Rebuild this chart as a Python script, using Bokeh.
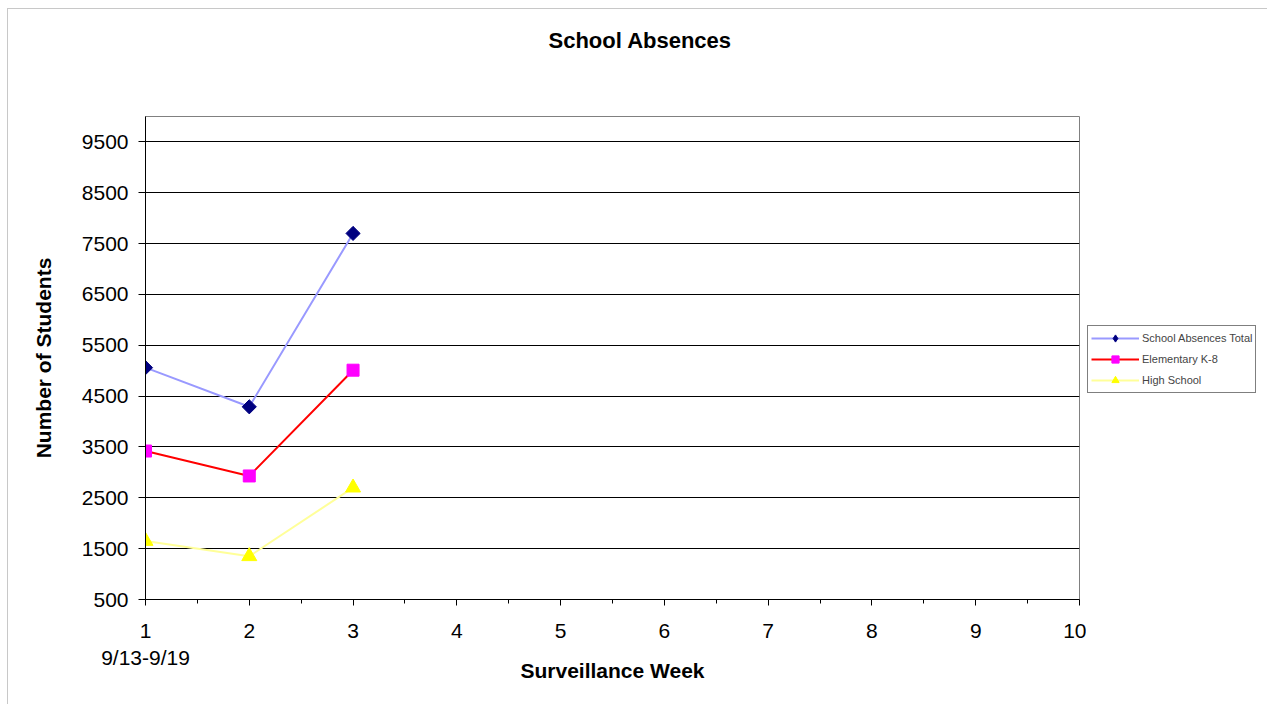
import numpy as np
from bokeh.plotting import figure
from bokeh.layouts import row
from bokeh.models import Range1d, FixedTicker, Legend, LegendItem, Title
from bokeh.embed import file_html
from bokeh.resources import INLINE

# ---- data ----
weeks = [1, 2, 3]
total = [5060, 4290, 7700]
elementary = [3420, 2930, 5010]
high_school = [1650, 1350, 2700]
x_ticks = [1, 2, 3, 4, 5, 6, 7, 8, 9, 10]
x_minor = [1.5, 2.5, 3.5, 4.5, 5.5, 6.5, 7.5, 8.5, 9.5]
y_ticks = [500, 1500, 2500, 3500, 4500, 5500, 6500, 7500, 8500, 9500]
x_lo, x_hi = 1, 10
y_lo, y_hi = 500, 10000
first_week_label = "9/13-9/19"
series_names = ["School Absences Total", "Elementary K-8", "High School"]

FONT = "Liberation Sans"
styles = [
    dict(line="#9999FF", marker="square", angle=np.pi / 4, size=10,
         lmarker="diamond", lsize=10, fill="#000080"),
    dict(line="#FF0000", marker="square", angle=0.0, size=12,
         lmarker="square", lsize=8, fill="#FF00FF"),
    dict(line="#FFFF99", marker="triangle", angle=0.0, size=15,
         lmarker="triangle", lsize=10, fill="#FFFF00"),
]

p = figure(width=1078, height=695, frame_width=934, frame_height=483,
           x_range=Range1d(x_lo, x_hi), y_range=Range1d(y_lo, y_hi),
           output_backend="svg", toolbar_location=None,
           min_border_left=137, min_border_right=7,
           min_border_top=107, min_border_bottom=105)

# spacer between title and plot area
p.add_layout(Title(text=" ", text_font_size="12px", standoff=48), "above")

# title
p.title.text = "School Absences"
p.title.align = "left"
p.title.offset = 403
p.title.standoff = 0
p.title.text_font = FONT
p.title.text_font_size = "22px"
p.title.text_font_style = "bold"
p.title.text_color = "black"

p.background_fill_color = "white"
p.border_fill_color = "white"
p.outline_line_color = "#808080"
p.outline_line_width = 1

# axes
xa = p.xaxis[0]
xa.ticker = FixedTicker(ticks=x_ticks, minor_ticks=x_minor)
xa.major_label_overrides = {x_ticks[0]: f"{x_ticks[0]}\n{first_week_label}"}
xa.axis_label = "Surveillance Week"
xa.axis_label_text_font = FONT
xa.axis_label_text_font_size = "21px"
xa.axis_label_text_font_style = "bold"
xa.axis_label_text_color = "black"
xa.axis_label_standoff = -13
xa.major_label_text_font = FONT
xa.major_label_text_font_size = "21px"
xa.major_label_text_color = "black"
xa.major_label_standoff = 13
xa.major_tick_out = 6
xa.major_tick_in = 0
xa.minor_tick_out = 4
xa.minor_tick_in = 0
xa.axis_line_color = "black"
xa.major_tick_line_color = "black"
xa.minor_tick_line_color = "black"

ya = p.yaxis[0]
ya.ticker = FixedTicker(ticks=y_ticks)
ya.axis_label = "Number of Students"
ya.axis_label_text_font = FONT
ya.axis_label_text_font_size = "21px"
ya.axis_label_text_font_style = "bold"
ya.axis_label_text_color = "black"
ya.axis_label_standoff = 24
ya.major_label_text_font = FONT
ya.major_label_text_font_size = "21px"
ya.major_label_text_color = "black"
ya.major_label_standoff = 10
ya.major_tick_out = 7
ya.major_tick_in = 0
ya.minor_tick_line_color = None
ya.axis_line_color = "black"
ya.major_tick_line_color = "black"

p.xgrid.visible = False
p.ygrid.ticker = FixedTicker(ticks=y_ticks)
p.ygrid.grid_line_color = "black"
p.ygrid.grid_line_width = 1

# series
series_values = [total, elementary, high_school]
for vals, st in zip(series_values, styles):
    p.line(weeks, vals, line_color=st["line"], line_width=2)
    p.scatter(weeks, vals, marker=st["marker"], angle=st["angle"], size=st["size"],
              fill_color=st["fill"], line_color=st["fill"])

# legend panel (separate narrow canvas to the right of the plot area);
# its renderers carry the same series but lie outside its (empty) view
lf = figure(width=181, height=695, output_backend="svg", toolbar_location=None,
            x_range=Range1d(-2, -1), y_range=Range1d(-2, -1),
            x_axis_type=None, y_axis_type=None,
            min_border_left=0, min_border_right=0, min_border_top=0, min_border_bottom=0)
lf.outline_line_color = None
lf.background_fill_color = "white"
lf.border_fill_color = "white"
lf.grid.visible = False

items = []
for name, vals, st in zip(series_names, series_values, styles):
    lr = lf.line(weeks, vals, line_color=st["line"], line_width=2)
    mr = lf.scatter(weeks, vals, marker=st["lmarker"], size=st["lsize"],
                    fill_color=st["fill"], line_color=st["fill"])
    items.append(LegendItem(label=name, renderers=[lr, mr]))

legend = Legend(items=items, location=(1, 206))
legend.label_text_font = FONT
legend.label_text_font_size = "11px"
legend.glyph_width = 48
legend.glyph_height = 18
legend.label_height = 18
legend.label_standoff = 3
legend.spacing = 3
legend.padding = 3
legend.margin = 0
legend.border_line_color = "black"
legend.border_line_width = 1
legend.background_fill_color = "white"
lf.add_layout(legend)

layout = row(p, lf)
layout.styles = {"margin-left": "7px", "margin-top": "8px",
                 "border-left": "1px solid #c8c8c8", "border-top": "1px solid #c8c8c8"}

open("out.html", "w").write(file_html(layout, INLINE))
